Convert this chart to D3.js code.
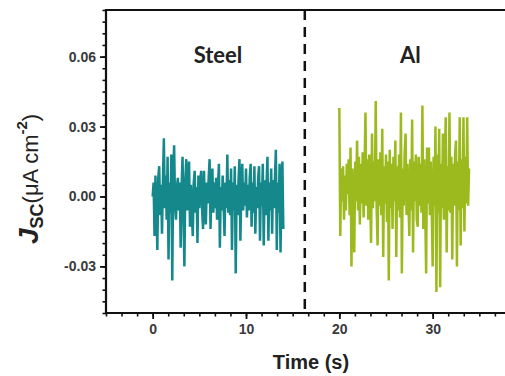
<!DOCTYPE html>
<html>
<head>
<meta charset="utf-8">
<script src="https://cdn.jsdelivr.net/npm/d3@7"></script>
<style>
  html, body { margin: 0; padding: 0; background: #fff; }
  svg { display: block; }
</style>
</head>
<body>
<div id="chart"></div>
<script>
"use strict";

// ---------------------------------------------------------------------------
// Data (Jsc in uA cm^-2, sampled every 0.1 s)
// ---------------------------------------------------------------------------

const sampleStep = 0.1;

const steelStart = 0;
const steelValues = [
  0.000, 0.006, -0.017, 0.009, -0.006, -0.023, 0.008, 0.013, -0.008, 0.005,
  -0.016, 0.007, 0.025, -0.005, 0.009, -0.010, 0.017, -0.027, 0.006, -0.007,
  0.018, -0.036, 0.010, 0.022, -0.004, -0.010, 0.004, 0.008, -0.006, 0.006,
  -0.022, 0.004, 0.017, -0.008, -0.030, 0.007, 0.016, -0.006, 0.008, 0.015,
  -0.013, 0.005, -0.008, -0.017, 0.006, 0.011, -0.007, 0.004, -0.020, 0.009,
  -0.005, 0.007, 0.011, -0.006, -0.014, 0.011, -0.004, -0.012, 0.006, -0.003,
  0.008, 0.016, -0.014, 0.005, 0.012, -0.007, 0.006, -0.005, 0.008, -0.010,
  0.005, 0.014, -0.022, 0.004, -0.006, 0.009, -0.004, -0.017, 0.006, -0.005,
  0.018, -0.007, 0.007, -0.008, 0.012, -0.023, 0.006, -0.006, 0.013, -0.033,
  0.005, -0.008, 0.007, 0.016, -0.019, 0.004, 0.014, -0.006, 0.006, -0.004,
  0.012, -0.009, 0.005, -0.006, 0.008, 0.014, -0.013, 0.006, -0.007, 0.013,
  -0.016, 0.004, -0.005, 0.008, 0.013, -0.019, 0.006, -0.004, 0.014, -0.021,
  0.007, -0.008, 0.005, 0.017, -0.019, 0.006, -0.006, 0.012, -0.016, 0.007,
  -0.005, 0.008, 0.020, -0.023, 0.006, -0.007, 0.014, -0.024, 0.005, 0.015,
  -0.014
];

const alStart = 20;
const alValues = [
  0.038, -0.017, 0.012, -0.002, 0.013, -0.010, 0.009, -0.006, 0.014, 0.001,
  0.016, -0.008, 0.021, -0.030, 0.012, -0.004, -0.024, 0.015, -0.002, 0.024,
  -0.006, 0.017, -0.012, 0.014, -0.003, 0.019, -0.009, 0.012, 0.036, -0.004,
  0.016, -0.010, 0.018, 0.000, -0.020, 0.027, -0.005, 0.015, -0.002, 0.041,
  -0.006, -0.021, 0.016, -0.004, 0.019, -0.008, 0.029, -0.026, 0.013, -0.003,
  0.018, -0.011, 0.015, -0.036, 0.020, -0.005, 0.014, -0.014, 0.017, -0.002,
  0.024, -0.026, 0.013, -0.006, 0.018, -0.009, 0.036, -0.033, 0.012, -0.004,
  0.019, 0.027, -0.008, 0.014, -0.003, -0.017, 0.016, -0.006, 0.033, -0.024,
  0.015, -0.002, 0.018, -0.010, -0.013, 0.017, -0.004, 0.014, -0.007, 0.039,
  -0.014, 0.016, -0.005, -0.033, 0.021, -0.003, 0.021, -0.008, 0.015, -0.006,
  -0.030, 0.017, -0.004, 0.030, -0.041, 0.018, -0.007, 0.029, -0.039, 0.014,
  -0.005, 0.027, -0.010, 0.016, 0.034, -0.024, 0.013, -0.006, 0.036, -0.007,
  0.017, -0.027, 0.014, -0.004, 0.018, 0.024, -0.030, 0.015, -0.006, 0.034,
  -0.021, 0.016, -0.005, 0.034, -0.015, 0.017, -0.003, 0.034, -0.004, 0.012
];

const dividerTime = 16.3;

const xDomain = [-5, 40];
const yDomain = [-0.05, 0.08];
const xTickValues = [0, 10, 20, 30];
const yTickValues = [-0.03, 0.00, 0.03, 0.06];
const panelLabels = [
  { text: "Steel", t: 7 },
  { text: "Al", t: 27.6 },
];

// ---------------------------------------------------------------------------
// Layout
// ---------------------------------------------------------------------------

const width = 505;
const height = 376;
const plot = { left: 106, top: 10, right: 526, bottom: 313 };

const steelColor = "#14888a";
const alColor = "#9cba1e";

const svg = d3.select("#chart")
  .append("svg")
  .attr("width", width)
  .attr("height", height);

const x = d3.scaleLinear().domain(xDomain).range([plot.left, plot.right]);
const y = d3.scaleLinear().domain(yDomain).range([plot.bottom, plot.top]);

// ---------------------------------------------------------------------------
// Series
// ---------------------------------------------------------------------------

function toPoints(start, values) {
  return values.map((v, i) => ({ t: start + i * sampleStep, v }));
}

const line = d3.line()
  .x((d) => x(d.t))
  .y((d) => y(d.v));

svg.append("path")
  .datum(toPoints(steelStart, steelValues))
  .attr("fill", "none")
  .attr("stroke", steelColor)
  .attr("stroke-width", 2.5)
  .attr("stroke-linejoin", "bevel")
  .attr("d", line);

svg.append("path")
  .datum(toPoints(alStart, alValues))
  .attr("fill", "none")
  .attr("stroke", alColor)
  .attr("stroke-width", 2.5)
  .attr("stroke-linejoin", "bevel")
  .attr("d", line);

// divider
svg.append("line")
  .attr("x1", x(dividerTime))
  .attr("x2", x(dividerTime))
  .attr("y1", plot.top)
  .attr("y2", plot.bottom)
  .attr("stroke", "#111")
  .attr("stroke-width", 2.5)
  .attr("stroke-dasharray", "10,7");

// ---------------------------------------------------------------------------
// Axes
// ---------------------------------------------------------------------------

const tickFont = "'Liberation Sans', Arial, sans-serif";

const xMinor = d3.range(xDomain[0], xDomain[1] + 0.01, 10 / 6);
const yMinor = d3.range(yDomain[0], yDomain[1] + 0.0001, 0.005);

svg.append("g")
  .attr("transform", `translate(0,${plot.bottom})`)
  .call(d3.axisBottom(x).tickValues(xMinor).tickSize(3.5).tickFormat("").tickSizeOuter(0))
  .call((g) => g.select(".domain").remove())
  .call((g) => g.selectAll("line").attr("stroke", "#111").attr("stroke-width", 1.6));

svg.append("g")
  .attr("transform", `translate(${plot.left},0)`)
  .call(d3.axisLeft(y).tickValues(yMinor).tickSize(3.5).tickFormat("").tickSizeOuter(0))
  .call((g) => g.select(".domain").remove())
  .call((g) => g.selectAll("line").attr("stroke", "#111").attr("stroke-width", 1.6));

svg.append("g")
  .attr("transform", `translate(0,${plot.bottom})`)
  .call(d3.axisBottom(x).tickValues(xTickValues).tickSize(6).tickPadding(5).tickSizeOuter(0))
  .call((g) => g.select(".domain").remove())
  .call((g) => g.selectAll("line").attr("stroke", "#111").attr("stroke-width", 1.8))
  .call((g) => g.selectAll("text")
    .attr("font-family", tickFont)
    .attr("font-weight", "bold")
    .attr("font-size", 14)
    .attr("fill", "#3a3a3a"));

svg.append("g")
  .attr("transform", `translate(${plot.left},0)`)
  .call(d3.axisLeft(y).tickValues(yTickValues).tickSize(6).tickPadding(4)
    .tickFormat((d) => d.toFixed(2)).tickSizeOuter(0))
  .call((g) => g.select(".domain").remove())
  .call((g) => g.selectAll("line").attr("stroke", "#111").attr("stroke-width", 1.8))
  .call((g) => g.selectAll("text")
    .attr("font-family", tickFont)
    .attr("font-weight", "bold")
    .attr("font-size", 14)
    .attr("fill", "#3a3a3a"));

// frame
svg.append("path")
  .attr("d", `M${plot.left},${plot.bottom}H${plot.right}V${plot.top}H${plot.left}Z`)
  .attr("fill", "none")
  .attr("stroke", "#111")
  .attr("stroke-width", 2.2);

// ---------------------------------------------------------------------------
// Labels
// ---------------------------------------------------------------------------

svg.selectAll(".panel-label")
  .data(panelLabels)
  .enter()
  .append("text")
  .attr("class", "panel-label")
  .attr("x", (d) => x(d.t))
  .attr("y", 63)
  .attr("text-anchor", "middle")
  .attr("font-family", "Lato, 'Open Sans', sans-serif")
  .attr("font-weight", "bold")
  .attr("font-size", 22)
  .attr("fill", "#222")
  .text((d) => d.text);

svg.append("text")
  .attr("x", 311)
  .attr("y", 369)
  .attr("text-anchor", "middle")
  .attr("font-family", tickFont)
  .attr("font-weight", "bold")
  .attr("font-size", 20)
  .attr("fill", "#222")
  .text("Time (s)");

const yTitle = svg.append("text")
  .attr("transform", "translate(38,244) rotate(-90)")
  .attr("font-family", tickFont)
  .attr("fill", "#222");

yTitle.append("tspan")
  .attr("font-size", 28)
  .attr("font-weight", "bold")
  .attr("font-style", "italic")
  .text("J");
yTitle.append("tspan")
  .attr("font-size", 18)
  .attr("font-weight", "bold")
  .attr("dy", 5)
  .text("SC");
yTitle.append("tspan")
  .attr("font-size", 22)
  .attr("dy", -5)
  .text("(\u03bcA cm");
yTitle.append("tspan")
  .attr("font-size", 15)
  .attr("font-weight", "bold")
  .attr("dy", -11)
  .text("-2");
yTitle.append("tspan")
  .attr("font-size", 22)
  .attr("dy", 11)
  .text(")");
</script>
</body>
</html>
